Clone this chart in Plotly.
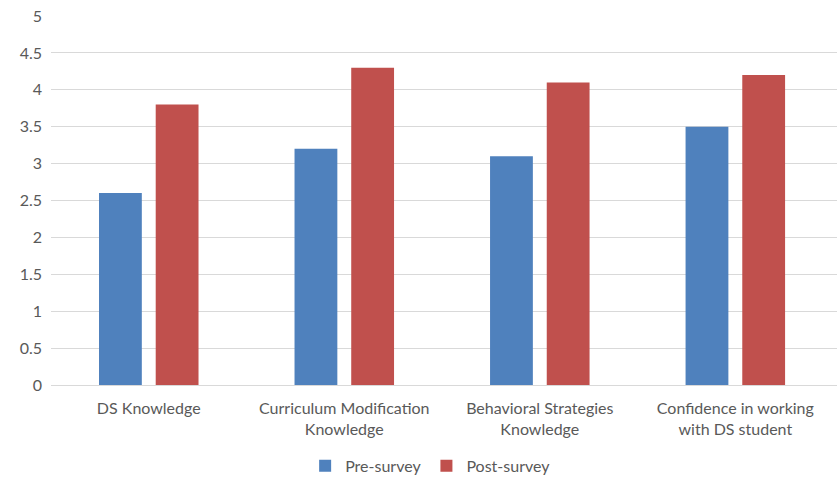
import plotly.graph_objects as go

categories = ["DS Knowledge", "Curriculum Modification<br>Knowledge",
              "Behavioral Strategies<br>Knowledge", "Confidence in working<br>with DS student"]
pre_survey = [2.6, 3.2, 3.1, 3.5]
post_survey = [3.8, 4.3, 4.1, 4.2]
y_ticks = [0, 0.5, 1, 1.5, 2, 2.5, 3, 3.5, 4, 4.5, 5]

FONT = "Lato, 'Open Sans', sans-serif"
GRAY = "#595959"

fig = go.Figure()
fig.add_trace(go.Bar(name="Pre-survey", x=categories, y=pre_survey,
                     marker=dict(color="#4F81BD", line=dict(width=0))))
fig.add_trace(go.Bar(name="Post-survey", x=categories, y=post_survey,
                     marker=dict(color="#C0504D", line=dict(width=0))))

fig.update_layout(
    width=837, height=478,
    margin=dict(l=51, r=0, t=16, b=93, autoexpand=False),
    paper_bgcolor="white", plot_bgcolor="white",
    barmode="group", bargap=0.42, bargroupgap=0.245,
    font=dict(family=FONT, size=16, color=GRAY),
    legend=dict(orientation="h", x=0.483, xanchor="center", y=-0.219, yanchor="middle",
                font=dict(size=16, color=GRAY), itemwidth=30, traceorder="normal",
                tracegroupgap=0),
    xaxis=dict(range=[-0.5, 3.52], showgrid=False, showline=False, ticks="",
               automargin=False,
               tickfont=dict(size=16, color=GRAY), ticklabelstandoff=12),
    yaxis=dict(range=[0, 5], tickvals=y_ticks, showgrid=True, gridcolor="#D9D9D9",
               gridwidth=1, zeroline=True, zerolinecolor="#D9D9D9", zerolinewidth=1,
               automargin=False,
               showline=False, ticks="", tickfont=dict(size=16, color=GRAY),
               ticklabelstandoff=8),
)

fig.write_html("out.html")
